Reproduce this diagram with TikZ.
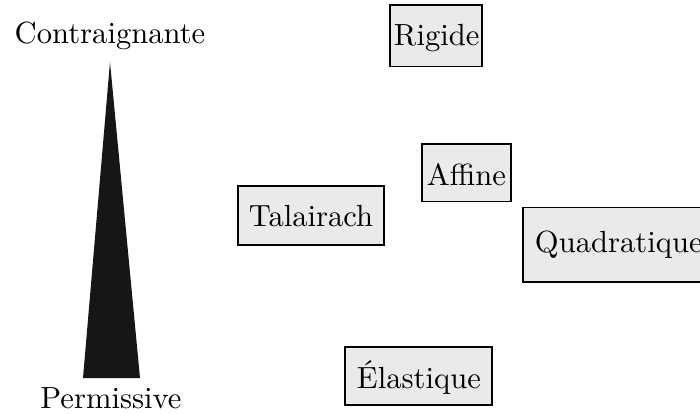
\documentclass[tikz,border=0pt]{standalone}
\usepackage{xcolor}
\usetikzlibrary{fit}
\definecolor{boxgray}{HTML}{EAEAEA}
\definecolor{wedge}{HTML}{161616}
\begin{document}
\begin{tikzpicture}[x=0.3333pt,y=-0.3333pt,
  box/.style={draw=black,line width=0.45pt,fill=boxgray,inner sep=0pt,outer sep=0pt},
  lbl/.style={anchor=base west,inner sep=0pt,outer sep=0pt,font=\fontsize{10.2}{12}\selectfont},
  end/.style={anchor=base,inner sep=0pt,font=\fontsize{10.2}{12}\selectfont}]
\useasboundingbox (0,0) rectangle (700,413);
\clip (0,0) rectangle (700,413);
% wedge
\coordinate (apex) at (110,62);
\coordinate (bl) at (83,378);
\coordinate (br) at (140,378);
\fill[wedge] (apex) -- (br) -- (bl) -- cycle;
\node[end] (top) at (110,43) {Contraignante};
\node[end] (bottom) at (111,408) {Permissive};
% boxes
\node[box,fit={(390,5) (482,66.5)}] (rigide) {};
\node[lbl] (rigideT) at (394,45) {Rigide};
\node[box,fit={(422,144) (511,201.5)}] (affine) {};
\node[lbl] (affineT) at (427,185) {Affine};
\node[box,fit={(238,186) (384,245)}] (talairach) {};
\node[lbl] (talT) at (249,226.5) {Talairach};
\node[box,fit={(523,207.5) (720,282)}] (quad) {};
\node[lbl] (quadT) at (535,252) {Quadratique};
\node[box,fit={(345,347) (492,405)}] (elas) {};
\node[lbl] (elasT) at (357,388) {Élastique};
\end{tikzpicture}
\end{document}
